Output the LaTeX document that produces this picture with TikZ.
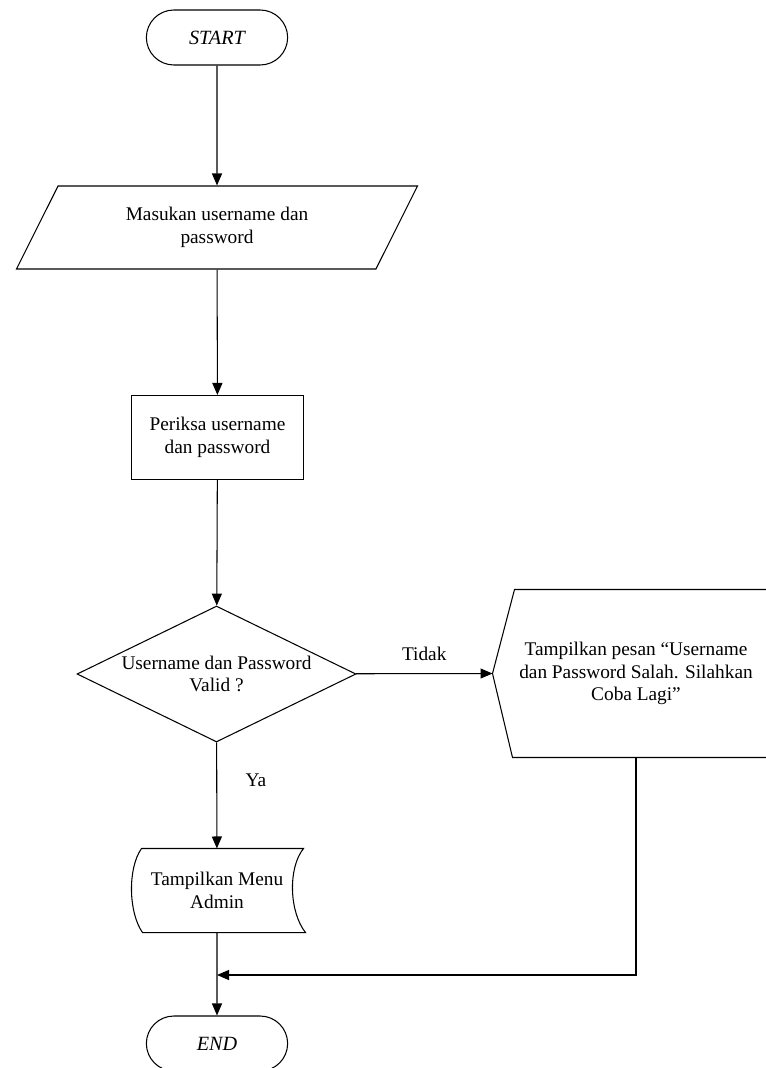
\documentclass[tikz,border=0pt]{standalone}
\usepackage{fontspec}
\setmainfont{Liberation Serif}
\usetikzlibrary{shapes.geometric,shapes.misc,arrows.meta}

\begin{document}
\begin{tikzpicture}[
  x=0.02cm, y=-0.02cm,
  line width=0.6pt,
  font=\fontsize{11}{13}\selectfont,
  terminal/.style={rounded rectangle, draw, minimum width=3.06cm,
                   minimum height=1.1cm, font=\fontsize{11.5}{13}\selectfont\itshape},
  inputbox/.style={trapezium, draw, trapezium left angle=64,
                   trapezium right angle=116, trapezium stretches=true,
                   minimum width=8.04cm, minimum height=1.66cm, align=center},
  procbox/.style={rectangle, draw, minimum width=3.44cm,
                  minimum height=1.68cm, align=center},
  decision/.style={diamond, draw, minimum width=5.58cm, minimum height=2.72cm,
                   shape aspect=2.05, inner sep=0pt, align=center},
  menubox/.style={rectangle, minimum width=3cm, minimum height=1.66cm,
                  inner sep=0pt, align=center},
  msgbox/.style={rectangle, minimum width=4.84cm, minimum height=3.34cm,
                 inner sep=0pt, align=center},
  flow/.style={-{Triangle[length=0.24cm,width=0.2cm]}}
]
  \useasboundingbox (0,0) rectangle (765,1068);

  \node[terminal] (start) at (217,37.5) {START};
  \node[inputbox] (input) at (217,227.5) {Masukan username dan\\password};
  \node[procbox]  (check) at (217.5,437.5) {Periksa username\\dan password};
  \node[decision] (valid) at (216.5,674) {Username dan Password\\Valid ?};
  \node[menubox]  (menu)  at (217,890.5) {Tampilkan Menu\\Admin};
  \node[msgbox]   (msg)   at (636,673.5)
        {Tampilkan pesan “Username\\dan Password Salah. Silahkan\\Coba Lagi”};
  \node[terminal] (end)   at (217,1043.5) {END};

  % display symbol, open to the right
  \draw ([xshift=-0.44cm]msg.west) -- (msg.north west)
        -- ([xshift=1cm]msg.north east) -- ([xshift=1cm]msg.south east)
        -- ([xshift=-0.04cm]msg.south west) -- cycle;
  \coordinate (msgtip) at ([xshift=-0.44cm]msg.west);

  % stored data symbol
  \draw (menu.north west) -- ([xshift=0.22cm]menu.north east)
        .. controls +(-16,20) and +(-16,-20) .. ([xshift=0.26cm]menu.south east)
        -- ([xshift=0.02cm]menu.south west)
        .. controls +(-14,-20) and +(-14,20) .. (menu.north west);

  \coordinate (join) at (217,975);

  \draw[flow] (start) -- (input);
  \draw[flow] (input) -- (check);
  \draw[flow] (check) -- (valid);
  \draw[flow] (valid) -- node[pos=0.36, right=0.45cm] {Ya} (menu);
  \draw[flow] (valid) -- node[above=4pt] {Tidak} (msgtip);
  \draw[flow] (msg.south) |- (join);
  \draw[flow] (menu) -- (end);
\end{tikzpicture}
\end{document}
